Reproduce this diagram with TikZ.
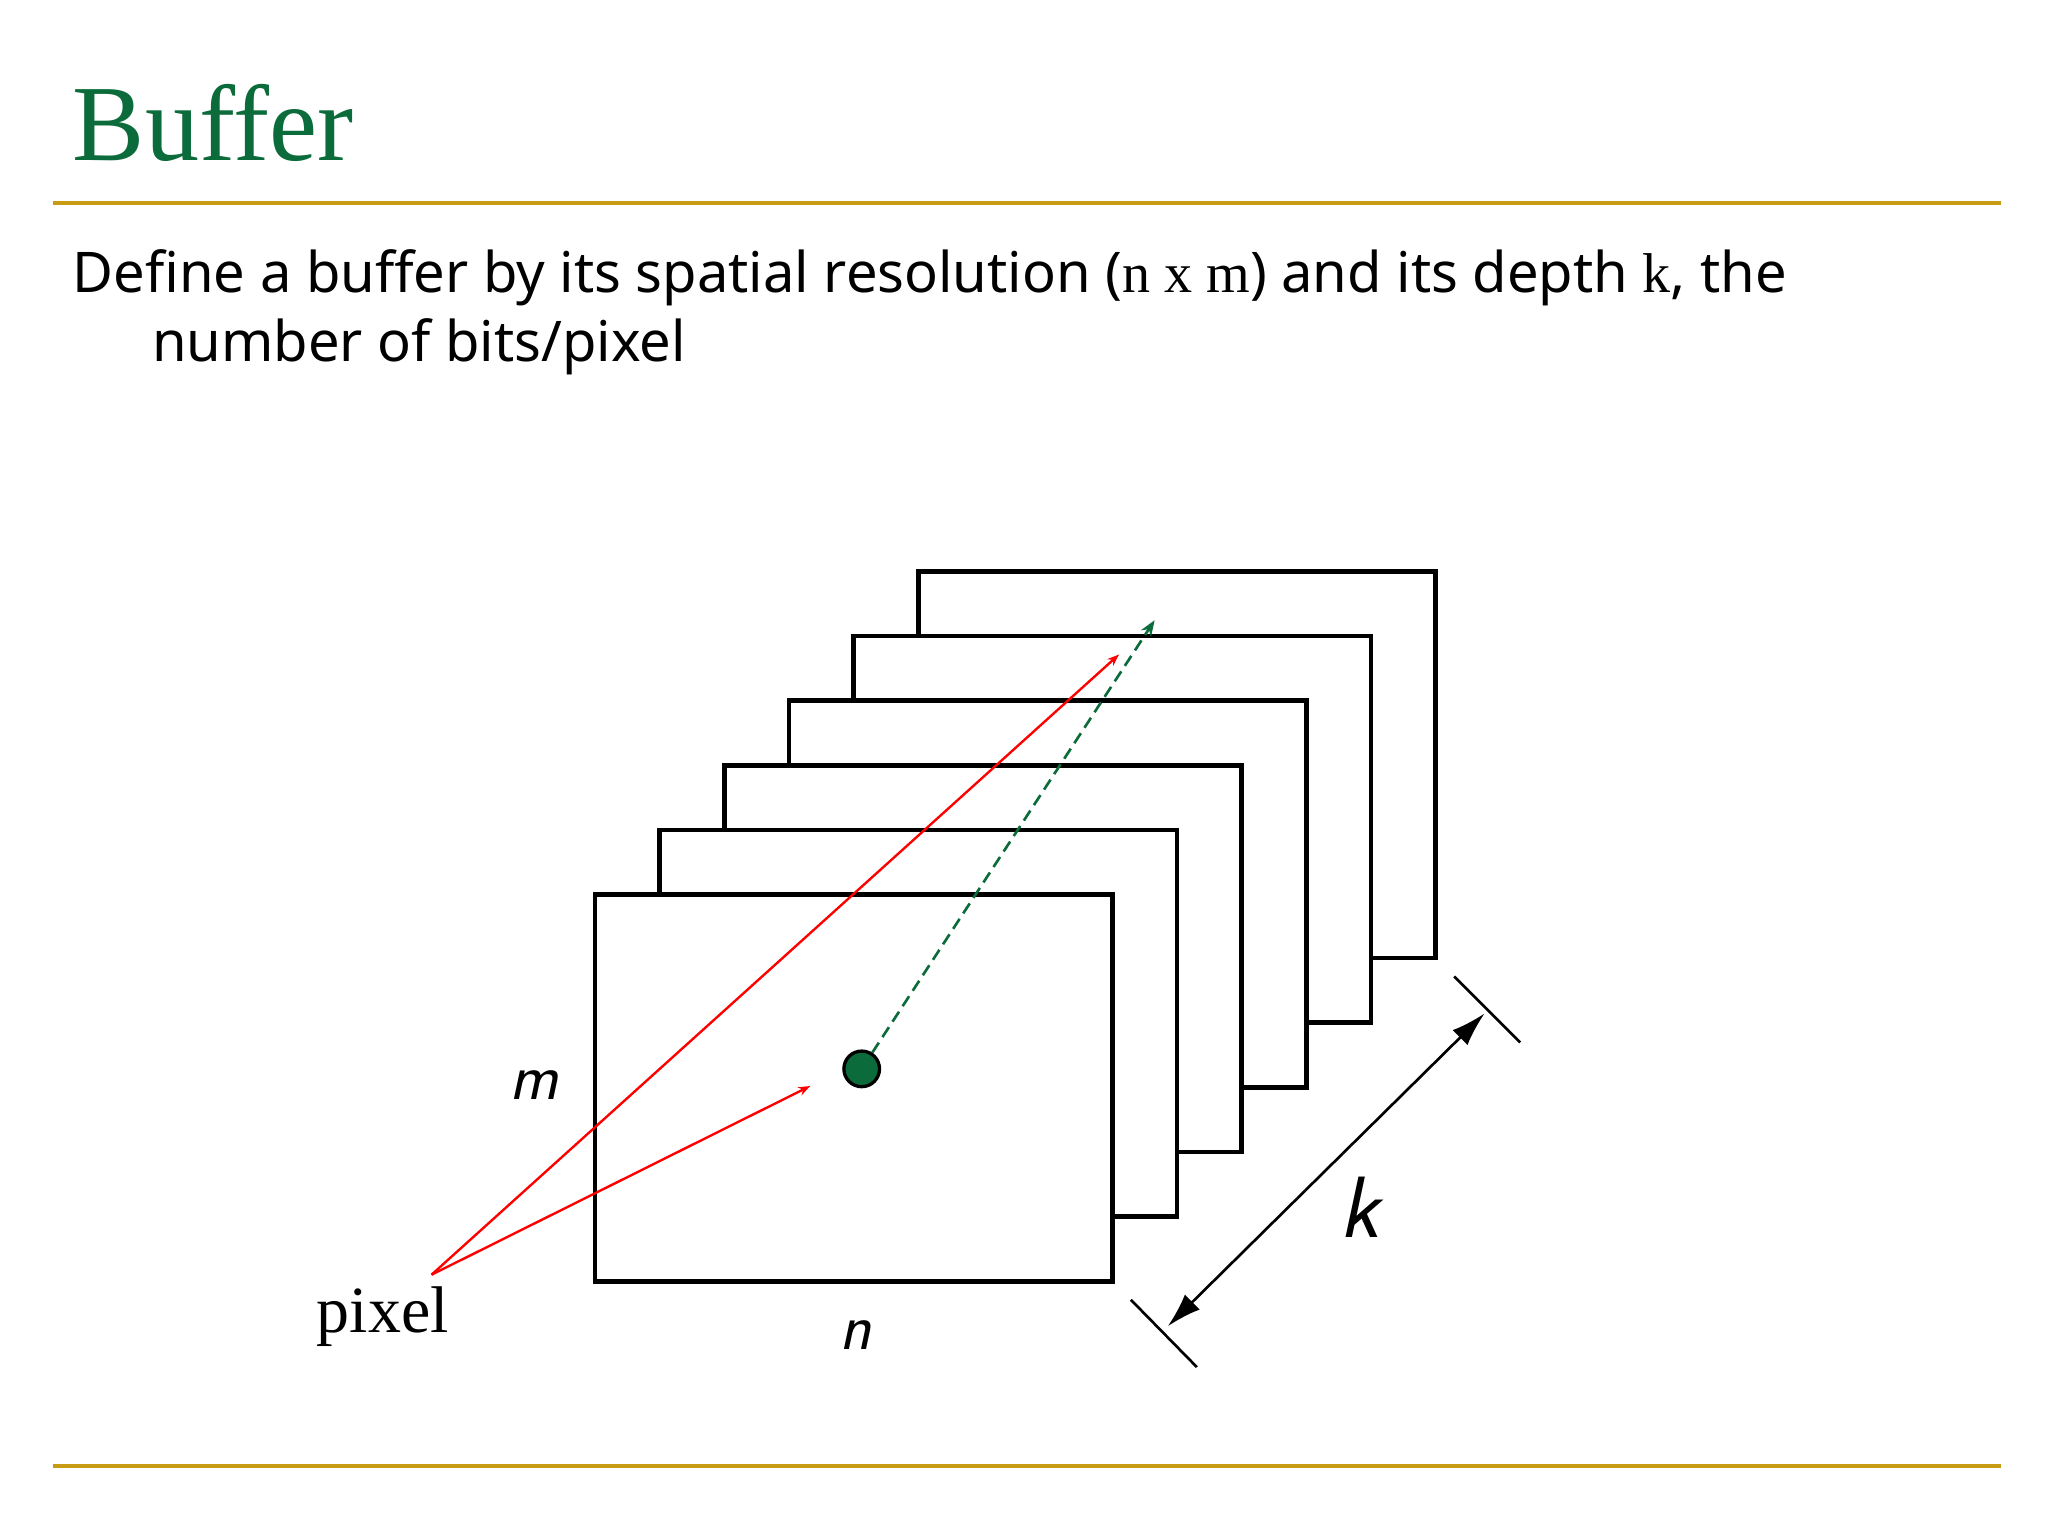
\documentclass[tikz,border=0pt]{standalone}
\usepackage{fontspec}
\setmainfont{Noto Sans}
\newfontfamily\serifF{Liberation Serif}
\usetikzlibrary{arrows.meta}
\definecolor{gold}{HTML}{C89B14}
\definecolor{dgreen}{HTML}{0B6B3A}
\begin{document}
\begin{tikzpicture}[x=1pt,y=-1pt,
  frame/.style={draw=black,line width=3.5pt,fill=white},
  redl/.style={red,line width=1.8pt,-{Stealth[length=9pt]}},
  lab/.style={font=\fontsize{50}{50}\selectfont\sffamily\itshape,inner sep=0pt}]
\useasboundingbox (0,0) rectangle (1552,1164);
\fill[white] (0,0) rectangle (1552,1164);
\node[anchor=base west,inner sep=0pt,text=dgreen,font=\serifF\fontsize{82}{82}\selectfont] (title) at (55,122) {Buffer};
\draw[gold,line width=3pt] (40,154) -- (1516,154);
\draw[gold,line width=3pt] (40,1111) -- (1516,1111);
\node[anchor=base west,inner sep=0pt,font=\fontsize{42.5}{42.5}\selectfont] (l1) at (55,222) {Define a buffer by its spatial resolution ({\serifF n x m}) and its depth {\serifF k}, the};
\node[anchor=base west,inner sep=0pt,font=\fontsize{42.5}{42.5}\selectfont] (l2) at (115,274) {number of bits/pixel};
\foreach \i in {5,4,3,2,1,0}{
  \draw[frame] (451+49*\i,678-49*\i) rectangle ++(392,293);
}
\node[circle,fill=dgreen,draw=black,line width=2.5pt,minimum size=27pt,inner sep=0pt] (dot) at (653,810) {};
\coordinate (gend) at (875,470);
\draw[dgreen,line width=2pt,dash pattern=on 9pt off 5pt,-{Stealth[length=12pt]}] (dot) -- (gend);
\coordinate (ps) at (327,966);
\coordinate (r1) at (848,496);
\coordinate (r2) at (614,823);
\draw[redl] (ps) -- (r1);
\draw[redl] (ps) -- (r2);
\node[font=\serifF\fontsize{50}{50}\selectfont,inner sep=0pt] (pix) at (290,998) {pixel};
\node[lab] (m) at (405,822) {m};
\node[lab] (n) at (648,1012) {n};
\node[lab,font=\fontsize{66}{66}\selectfont\sffamily\itshape] (k) at (1030,915) {k};
\coordinate (a1) at (885,1005);
\coordinate (a2) at (1125,768);
\draw[black,line width=2pt,{Latex[length=26pt,width=16pt]}-{Latex[length=26pt,width=16pt]}] (a1) -- (a2);
\coordinate (t1a) at (857,985); \coordinate (t1b) at (907,1036);
\coordinate (t2a) at (1102,740); \coordinate (t2b) at (1152,790);
\draw[line width=2pt] (t1a) -- (t1b);
\draw[line width=2pt] (t2a) -- (t2b);
\end{tikzpicture}
\end{document}
